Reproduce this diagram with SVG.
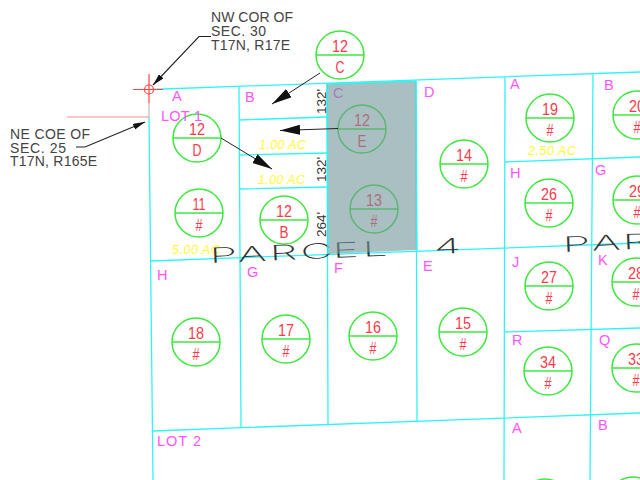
<svg xmlns="http://www.w3.org/2000/svg" width="640" height="480" viewBox="0 0 640 480">
<defs>
<marker id="big" markerUnits="userSpaceOnUse" markerWidth="22" markerHeight="12" refX="20" refY="5" orient="auto"><path d="M0 0L20 5L0 10Z" fill="#111"/></marker>
<marker id="small" markerUnits="userSpaceOnUse" markerWidth="14" markerHeight="8" refX="12" refY="3" orient="auto"><path d="M0 0L12 3L0 6Z" fill="#111"/></marker>
</defs>
<style>
text{font-family:"Liberation Sans",Arial,sans-serif}
.lot{fill:none;stroke:#2ff4f4;stroke-width:1.3}
.c{fill:none;stroke:#3ee83e;stroke-width:1.5}
.n{fill:#ff3a4a;font-size:16.500px;text-anchor:middle}
.m{fill:#ff55ff;font-size:14.500px}
.y{fill:#ffff33;font-size:12.500px;font-style:italic}
.b{fill:#444;font-size:14px}
.d{fill:#333;font-size:13.500px}
.ld{fill:none;stroke:#222;stroke-width:1.1}
.ar{fill:none;stroke:#222;stroke-width:1}
.p{fill:#333;font-size:21px;font-family:Inter,"Liberation Sans",sans-serif;font-weight:200}
</style>
<rect width="640" height="480" fill="#fff"/>

<g id="lots">
<path class="lot" d="M150 89.500L640 72M149 117L153 480M239 87L241 428M327 84L328 424M416 81L417 421M505 77L504 480M593 74L590 480"/>
<path class="lot" d="M151 261L640 243M153 431L640 413M239 120L327 117M239 155L327 153M239 189L327 187M505 162L640 157M504 332L640 328"/>
</g>

<g id="node-12D"><circle class="c" cx="197" cy="138" r="24"/><path class="c" d="M173 138H221"/><text class="n" x="197" y="135" textLength="16" lengthAdjust="spacingAndGlyphs">12</text><text class="n" x="197" y="156" textLength="9" lengthAdjust="spacingAndGlyphs">D</text></g>
<g id="node-11"><circle class="c" cx="199" cy="213" r="24"/><path class="c" d="M175 213H223"/><text class="n" x="199" y="210" textLength="13" lengthAdjust="spacingAndGlyphs">11</text><text class="n" x="199" y="231" textLength="7" lengthAdjust="spacingAndGlyphs">#</text></g>
<g id="node-12B"><circle class="c" cx="284" cy="220" r="24"/><path class="c" d="M260 220H308"/><text class="n" x="284" y="217" textLength="16" lengthAdjust="spacingAndGlyphs">12</text><text class="n" x="284" y="238" textLength="9" lengthAdjust="spacingAndGlyphs">B</text></g>
<g id="node-12C"><circle class="c" cx="340" cy="55" r="24"/><path class="c" d="M316 55H364"/><text class="n" x="340" y="52" textLength="16" lengthAdjust="spacingAndGlyphs">12</text><text class="n" x="340" y="73" textLength="9" lengthAdjust="spacingAndGlyphs">C</text></g>
<g id="node-12E"><circle class="c" cx="362" cy="129" r="24"/><path class="c" d="M338 129H386"/><text class="n" x="362" y="126" textLength="16" lengthAdjust="spacingAndGlyphs">12</text><text class="n" x="362" y="147" textLength="9" lengthAdjust="spacingAndGlyphs">E</text></g>
<g id="node-13"><circle class="c" cx="374" cy="209" r="24"/><path class="c" d="M350 209H398"/><text class="n" x="374" y="206" textLength="16" lengthAdjust="spacingAndGlyphs">13</text><text class="n" x="374" y="227" textLength="7" lengthAdjust="spacingAndGlyphs">#</text></g>
<g id="node-14"><circle class="c" cx="464" cy="164" r="24"/><path class="c" d="M440 164H488"/><text class="n" x="464" y="161" textLength="16" lengthAdjust="spacingAndGlyphs">14</text><text class="n" x="464" y="182" textLength="7" lengthAdjust="spacingAndGlyphs">#</text></g>
<g id="node-19"><circle class="c" cx="550" cy="118" r="24"/><path class="c" d="M526 118H574"/><text class="n" x="550" y="115" textLength="16" lengthAdjust="spacingAndGlyphs">19</text><text class="n" x="550" y="136" textLength="7" lengthAdjust="spacingAndGlyphs">#</text></g>
<g id="node-20"><circle class="c" cx="637" cy="115" r="24"/><path class="c" d="M613 115H640"/><text class="n" x="637" y="112" textLength="16" lengthAdjust="spacingAndGlyphs">20</text><text class="n" x="637" y="133" textLength="7" lengthAdjust="spacingAndGlyphs">#</text></g>
<g id="node-26"><circle class="c" cx="549" cy="203" r="24"/><path class="c" d="M525 203H573"/><text class="n" x="549" y="200" textLength="16" lengthAdjust="spacingAndGlyphs">26</text><text class="n" x="549" y="221" textLength="7" lengthAdjust="spacingAndGlyphs">#</text></g>
<g id="node-29"><circle class="c" cx="637" cy="200" r="24"/><path class="c" d="M613 200H640"/><text class="n" x="637" y="197" textLength="16" lengthAdjust="spacingAndGlyphs">29</text><text class="n" x="637" y="218" textLength="7" lengthAdjust="spacingAndGlyphs">#</text></g>
<g id="node-18"><circle class="c" cx="196" cy="342" r="24"/><path class="c" d="M172 342H220"/><text class="n" x="196" y="339" textLength="16" lengthAdjust="spacingAndGlyphs">18</text><text class="n" x="196" y="360" textLength="7" lengthAdjust="spacingAndGlyphs">#</text></g>
<g id="node-17"><circle class="c" cx="286" cy="339" r="24"/><path class="c" d="M262 339H310"/><text class="n" x="286" y="336" textLength="16" lengthAdjust="spacingAndGlyphs">17</text><text class="n" x="286" y="357" textLength="7" lengthAdjust="spacingAndGlyphs">#</text></g>
<g id="node-16"><circle class="c" cx="373" cy="336" r="24"/><path class="c" d="M349 336H397"/><text class="n" x="373" y="333" textLength="16" lengthAdjust="spacingAndGlyphs">16</text><text class="n" x="373" y="354" textLength="7" lengthAdjust="spacingAndGlyphs">#</text></g>
<g id="node-15"><circle class="c" cx="463" cy="332" r="24"/><path class="c" d="M439 332H487"/><text class="n" x="463" y="329" textLength="16" lengthAdjust="spacingAndGlyphs">15</text><text class="n" x="463" y="350" textLength="7" lengthAdjust="spacingAndGlyphs">#</text></g>
<g id="node-27"><circle class="c" cx="549" cy="286" r="24"/><path class="c" d="M525 286H573"/><text class="n" x="549" y="283" textLength="16" lengthAdjust="spacingAndGlyphs">27</text><text class="n" x="549" y="304" textLength="7" lengthAdjust="spacingAndGlyphs">#</text></g>
<g id="node-28"><circle class="c" cx="636" cy="282" r="24"/><path class="c" d="M612 282H640"/><text class="n" x="636" y="279" textLength="16" lengthAdjust="spacingAndGlyphs">28</text><text class="n" x="636" y="300" textLength="7" lengthAdjust="spacingAndGlyphs">#</text></g>
<g id="node-34"><circle class="c" cx="548" cy="371" r="24"/><path class="c" d="M524 371H572"/><text class="n" x="548" y="368" textLength="16" lengthAdjust="spacingAndGlyphs">34</text><text class="n" x="548" y="389" textLength="7" lengthAdjust="spacingAndGlyphs">#</text></g>
<g id="node-33"><circle class="c" cx="636" cy="368" r="24"/><path class="c" d="M612 368H640"/><text class="n" x="636" y="365" textLength="16" lengthAdjust="spacingAndGlyphs">33</text><text class="n" x="636" y="386" textLength="7" lengthAdjust="spacingAndGlyphs">#</text></g>
<g id="node-bottom-a"><circle class="c" cx="545" cy="503" r="24"/></g>
<g id="node-bottom-b"><circle class="c" cx="633" cy="501" r="24"/></g>

<g id="lot-labels">
<text class="m" x="172" y="101">A</text><text class="m" x="245" y="102">B</text><text class="m" x="333" y="98">C</text><text class="m" x="424" y="97">D</text><text class="m" x="510" y="89">A</text><text class="m" x="604" y="90">B</text>
<text class="m" x="161" y="121" textLength="41" lengthAdjust="spacing">LOT 1</text>
<text class="m" x="510" y="178">H</text><text class="m" x="595" y="175">G</text>
<text class="m" x="157" y="280">H</text><text class="m" x="247" y="277">G</text><text class="m" x="334" y="273">F</text><text class="m" x="423" y="271">E</text>
<text class="m" x="512" y="267">J</text><text class="m" x="598" y="265">K</text><text class="m" x="512" y="345">R</text><text class="m" x="599" y="345">Q</text>
<text class="m" x="512" y="433">A</text><text class="m" x="598" y="430">B</text>
<text class="m" x="157" y="446" textLength="44" lengthAdjust="spacing">LOT 2</text>
</g>
<g id="areas">
<text class="y" x="259" y="149" textLength="47" lengthAdjust="spacing">1.00 AC</text>
<text class="y" x="258" y="184" textLength="47" lengthAdjust="spacing">1.00 AC</text>
<text class="y" x="172" y="254" textLength="48" lengthAdjust="spacing">5.00 AC</text>
<text class="y" x="528" y="155" textLength="48" lengthAdjust="spacing">2.50 AC</text>
</g>
<g id="dimensions">
<text class="d" transform="translate(326 114) rotate(-90)">132'</text>
<text class="d" transform="translate(326 182) rotate(-90)">132'</text>
<text class="d" transform="translate(326 237) rotate(-90)">264'</text>
</g>
<g id="parcel-labels">
<text class="p" transform="translate(210 263) rotate(-2.300) scale(2.100 1)" x="0 13.300 28.600 43.300 58.600 72.900 101" y="0">PARCEL 4</text>
<text class="p" transform="translate(563 252) rotate(-2.300) scale(2.100 1)" x="0 13.800 28.600" y="0">PAR</text>
</g>

<path id="shaded" d="M327 84L416 81L416 250L327 254Z" fill="#6f9599" fill-opacity=".6"/>
<path class="lot" d="M327 84L416 81M327 84L328 254M416 81L417 250"/>

<g id="section-corner" fill="none">
<path d="M67 117H149" stroke="#ff8a8a" stroke-width="1.200"/>
<path d="M149 103V117" stroke="#bbb" stroke-width="1.200"/>
<path d="M133 89.500H163M149 74V103" stroke="#ff4444" stroke-width="1.200"/>
<circle cx="149" cy="89.500" r="4.500" stroke="#ff4444" stroke-width="1.200"/>
</g>

<g id="connectors">
<path class="ld" d="M211 36.500H199L153 85" marker-end="url(#small)"/>
<path class="ld" d="M76 147H85L145 122" marker-end="url(#small)"/>
<path class="ar" d="M320 73L272 104" marker-end="url(#big)"/>
<path class="ar" d="M338 128.500L280 130.500" marker-end="url(#big)"/>
<path class="ar" d="M221 138L272 169" marker-end="url(#big)"/>
</g>

<g id="corner-notes">
<text class="b" x="211" y="22" textLength="82" lengthAdjust="spacing">NW COR OF</text>
<text class="b" x="211" y="36" textLength="55" lengthAdjust="spacing">SEC. 30</text>
<text class="b" x="211" y="49.500" textLength="79" lengthAdjust="spacing">T17N, R17E</text>
<text class="b" x="10" y="139" textLength="80" lengthAdjust="spacing">NE COE OF</text>
<text class="b" x="10" y="153" textLength="56" lengthAdjust="spacing">SEC. 25</text>
<text class="b" x="10" y="166" textLength="87" lengthAdjust="spacing">T17N, R165E</text>
</g>
</svg>
